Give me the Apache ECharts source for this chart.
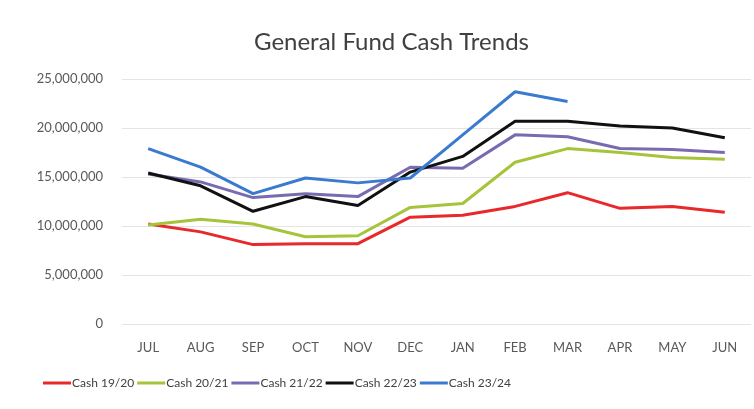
<!DOCTYPE html>
<html>
<head>
<meta charset="utf-8">
<style>
  html, body { margin: 0; padding: 0; background: #fff; }
  #chart { width: 754px; height: 409px; }
</style>
<script src="https://cdn.jsdelivr.net/npm/echarts@6/dist/echarts.min.js"></script>
</head>
<body>
<div id="chart"></div>
<script>
// months of the fiscal year
const months = ['JUL', 'AUG', 'SEP', 'OCT', 'NOV', 'DEC', 'JAN', 'FEB', 'MAR', 'APR', 'MAY', 'JUN']

// cash balances
const cash1920 = [10200000, 9400000, 8100000, 8200000, 8200000, 10900000, 11100000, 12000000, 13400000, 11800000, 12000000, 11400000]
const cash2021 = [10100000, 10700000, 10200000, 8900000, 9000000, 11900000, 12300000, 16500000, 17900000, 17500000, 17000000, 16800000]
const cash2122 = [15300000, 14500000, 12900000, 13300000, 13000000, 16000000, 15900000, 19300000, 19100000, 17900000, 17800000, 17500000]
const cash2223 = [15400000, 14100000, 11500000, 13000000, 12100000, 15500000, 17100000, 20700000, 20700000, 20200000, 20000000, 19000000]
const cash2324 = [17900000, 16000000, 13300000, 14900000, 14400000, 14900000, 19300000, 23700000, 22700000]

const fontFamily = 'Lato, "Open Sans", sans-serif'

function line(name, data, color) {
  return {
    name: name,
    type: 'line',
    data: data,
    symbol: 'none',
    lineStyle: { width: 3, color: color },
    itemStyle: { color: color }
  }
}

const chart = echarts.init(document.getElementById('chart'))
chart.setOption({
  animation: false,
  textStyle: { fontFamily: fontFamily },
  title: {
    text: 'General Fund Cash Trends',
    left: 249,
    top: 25,
    textStyle: { fontSize: 24, fontWeight: 'normal', color: '#404040', fontFamily: fontFamily }
  },
  legend: {
    bottom: 15,
    left: 38,
    icon: 'rect',
    itemWidth: 28,
    itemHeight: 3,
    itemGap: 3,
    textStyle: { fontSize: 12, color: '#404040', padding: [0, 0, 0, -4] },
    data: ['Cash 19/20', 'Cash 20/21', 'Cash 21/22', 'Cash 22/23', 'Cash 23/24']
  },
  grid: {
    left: 122,
    right: 3,
    top: 79,
    bottom: 85
  },
  xAxis: {
    type: 'category',
    data: months,
    boundaryGap: true,
    axisLine: { show: false },
    axisTick: { show: false },
    axisLabel: { color: '#595959', fontSize: 13, margin: 17 }
  },
  yAxis: {
    type: 'value',
    min: 0,
    max: 25000000,
    interval: 5000000,
    axisLine: { show: false },
    axisTick: { show: false },
    splitLine: { lineStyle: { color: '#e4e4e4' } },
    axisLabel: {
      color: '#595959',
      fontSize: 13,
      margin: 19,
      formatter: v => v.toLocaleString('en-US')
    }
  },
  series: [
    line('Cash 19/20', cash1920, '#e8282b'),
    line('Cash 20/21', cash2021, '#a5c43a'),
    line('Cash 21/22', cash2122, '#7a6bb0'),
    line('Cash 22/23', cash2223, '#111111'),
    line('Cash 23/24', cash2324, '#3a7bd0')
  ]
})
</script>
</body>
</html>
